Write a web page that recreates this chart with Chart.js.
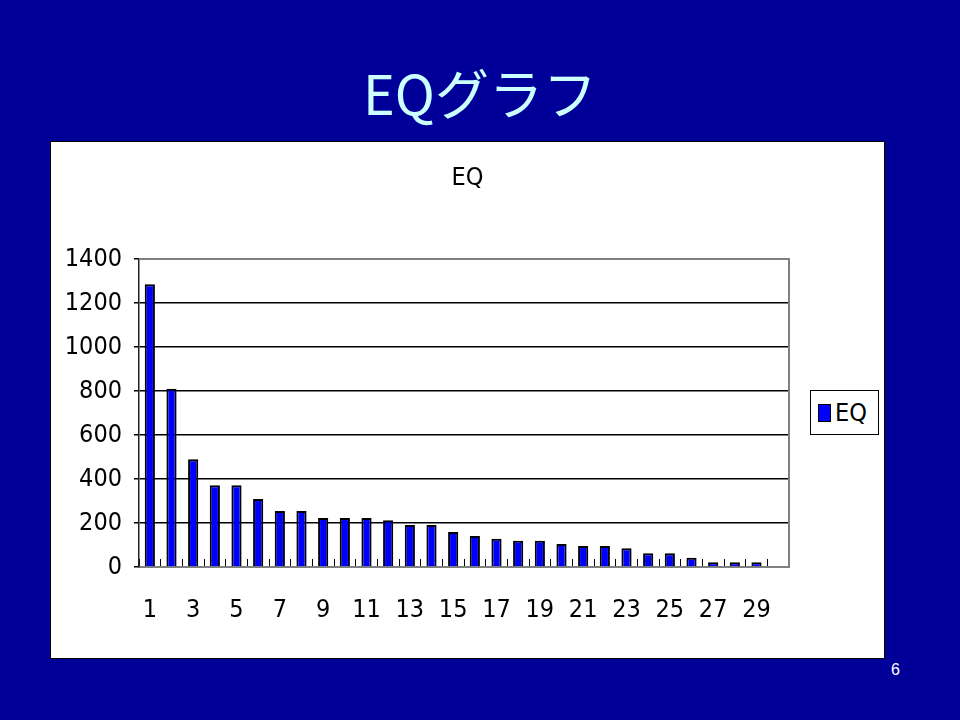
<!DOCTYPE html>
<html>
<head>
<meta charset="utf-8">
<script src="https://cdn.jsdelivr.net/npm/chart.js@4/dist/chart.umd.min.js"></script>
<style>
  body { margin: 0; width: 960px; height: 720px; background: #000099; position: relative; overflow: hidden; }
  #slideTitle { position: absolute; left: 0; top: 56px; width: 960px; text-align: center; color: #ccffff;
    font: 54px "Noto Sans CJK JP", "Noto Sans", sans-serif; line-height: 72px; }
  #box { position: absolute; left: 50px; top: 141px; width: 835px; height: 518px; background: #fff; box-sizing: border-box; border: 1px solid #000; }
  #legend { position: absolute; left: 759px; top: 248px; width: 69px; height: 45px; box-sizing: border-box;
    border: 1px solid #000; background: #fff; display: flex; align-items: center; padding-left: 7px;
    font: 25px "Liberation Sans Narrow", "DejaVu Sans Condensed", sans-serif; color: #000; }
  #legend span.sw { display: inline-block; width: 11px; height: 16px; background: #0000ff; border: 1px solid #000; margin-right: 4px; }
  #pageNo { position: absolute; left: 891px; top: 661px; color: #fff; font: 16px "Liberation Sans", Arial, sans-serif; }
</style>
</head>
<body>
<div id="slideTitle">EQグラフ</div>
<div id="box">
  <canvas id="eqChart"></canvas>
  <div id="legend"><span class="sw"></span>EQ</div>
</div>
<div id="pageNo">6</div>
<script>
const categories = Array.from({ length: 30 }, (_, i) => String(i + 1))
const eqValues = [1285, 810, 490, 372, 372, 309, 254, 254, 223, 223,
                  223, 212, 191, 191, 159, 141, 128, 119, 119, 105,
                  96, 96, 85, 62, 62, 42, 22, 22, 22, 0]
const yTicks = [0, 200, 400, 600, 800, 1000, 1200, 1400]

const narrow = '"Liberation Sans Narrow", "DejaVu Sans Condensed", sans-serif'

// gray frame on top and right of the plot, like the original
const plotFrame = {
    id: 'plotFrame',
    afterDraw(chart) {
        const a = chart.chartArea
        const ctx = chart.ctx
        ctx.save()
        ctx.strokeStyle = '#808080'
        ctx.lineWidth = 2
        ctx.beginPath()
        ctx.moveTo(a.left, a.top)
        ctx.lineTo(a.right, a.top)
        ctx.lineTo(a.right, a.bottom)
        ctx.stroke()
        ctx.restore()
    }
}

new Chart(document.getElementById('eqChart').getContext('2d'), {
    type: 'bar',
    data: {
        labels: categories,
        datasets: [{
            label: 'EQ',
            data: eqValues,
            backgroundColor: '#0000ff',
            borderColor: '#000',
            borderWidth: 2,
            borderSkipped: 'bottom',
            barPercentage: 0.47,
            categoryPercentage: 1
        }]
    },
    options: {
        responsive: true,
        maintainAspectRatio: false,
        animation: false,
        layout: { padding: 0 },
        plugins: {
            legend: { display: false },
            tooltip: { enabled: false },
            title: {
                display: true,
                text: 'EQ',
                color: '#000',
                font: { family: narrow, size: 25, weight: 'normal' },
                padding: { top: 21, bottom: 66 }
            }
        },
        scales: {
            x: {
                grid: { drawOnChartArea: false, tickLength: -8, color: '#000', lineWidth: 1, offset: true },
                border: { color: '#808080', width: 2 },
                ticks: {
                    autoSkip: false,
                    maxRotation: 0,
                    padding: 36,
                    color: '#000',
                    font: { family: narrow, size: 25 },
                    callback: (v, i) => i % 2 === 0 ? categories[i] : ''
                },
                afterFit: s => { s.height = 91 }
            },
            y: {
                min: 0,
                max: 1400,
                afterBuildTicks: s => { s.ticks = yTicks.map(v => ({ value: v })) },
                grid: {
                    color: c => (c.tick && (c.tick.value === 0 || c.tick.value === 1400)) ? 'rgba(0,0,0,0)' : '#000',
                    tickColor: '#000',
                    lineWidth: 1.5,
                    tickLength: 5
                },
                border: { color: '#222', width: 1.5 },
                ticks: { padding: 12, color: '#000', font: { family: narrow, size: 25 }, callback: v => String(v) },
                afterFit: s => { s.width = 88 }
            },
            // empty right-hand axis that keeps room for the legend box
            spacer: {
                type: 'linear',
                position: 'right',
                display: true,
                grid: { display: false, drawTicks: false },
                border: { display: false },
                ticks: { display: false },
                afterFit: s => { s.width = 95 }
            }
        }
    },
    plugins: [plotFrame]
})
</script>
</body>
</html>
